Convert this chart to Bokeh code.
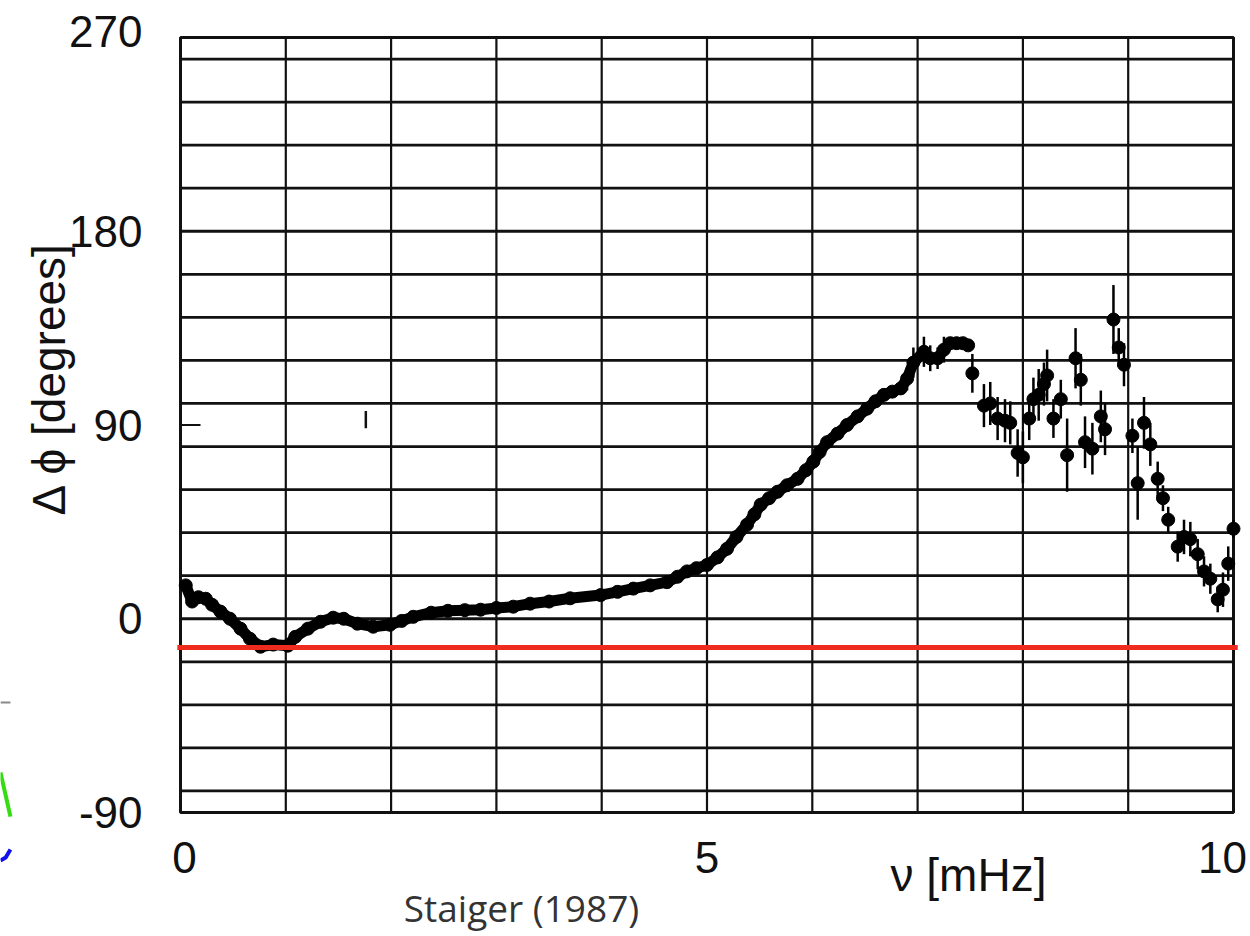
import math
from bokeh.plotting import figure
from bokeh.models import Range1d, Label
from bokeh.embed import file_html
from bokeh.resources import INLINE

# ---------------- data ----------------
curve_x = [0.05, 0.11, 0.17, 0.24, 0.30, 0.38, 0.47, 0.57, 0.66, 0.76, 0.88, 1.02, 1.09,
           1.21, 1.33, 1.45, 1.55, 1.68, 1.83, 1.99, 2.10, 2.21, 2.38, 2.54, 2.70, 2.85,
           3.00, 3.16, 3.32, 3.50, 3.70, 3.99, 4.15, 4.30, 4.46, 4.62, 4.72, 4.81, 4.90,
           5.00, 5.10, 5.19, 5.28, 5.38, 5.45, 5.51, 5.59, 5.67, 5.76, 5.86, 5.94, 6.01,
           6.07, 6.14, 6.24, 6.33, 6.43, 6.52, 6.60, 6.68, 6.76, 6.84, 6.90, 6.96, 7.06,
           7.12, 7.19, 7.25, 7.31, 7.37, 7.43, 7.48]
curve_y = [15.5, 8.0, 10.0, 9.3, 6.5, 3.3, 0.0, -4.6, -9.3, -13.0, -12.0, -12.5, -8.4,
           -4.6, -1.4, 0.5, 0.0, -2.3, -3.7, -2.8, -1.0, 0.9, 2.8, 3.7, 4.0, 4.2,
           5.0, 5.6, 7.0, 8.0, 9.5, 11.0, 12.5, 14.0, 15.5, 17.0, 19.5, 22.0, 23.5,
           25.0, 28.5, 32.5, 38.0, 43.7, 48.5, 53.0, 56.0, 59.0, 62.0, 65.0, 69.0, 73.0,
           77.5, 82.0, 86.0, 90.0, 94.0, 97.6, 101.0, 104.0, 105.5, 107.0, 111.5, 119.0, 124.0,
           121.0, 121.0, 125.0, 128.0, 128.0, 128.0, 127.0]
# small error bars visible on the dense part near its end
curve_err_x = [6.90, 6.96, 7.06, 7.12, 7.19, 7.25]
curve_err_lo = [106.0, 112.0, 117.0, 115.0, 116.0, 119.0]
curve_err_hi = [117.0, 126.0, 131.0, 127.0, 126.0, 131.0]

pts_x = [7.52, 7.63, 7.69, 7.76, 7.83, 7.88, 7.95, 8.00, 8.06, 8.10, 8.15, 8.20, 8.23, 8.29,
         8.36, 8.42, 8.50, 8.55, 8.59, 8.66, 8.74, 8.78, 8.86, 8.91, 8.96, 9.04, 9.09, 9.15,
         9.21, 9.28, 9.33, 9.38, 9.47, 9.53, 9.59, 9.66, 9.72, 9.78, 9.85, 9.90, 9.95, 10.0]
pts_y = [114, 99, 100, 93, 92, 91, 77, 75, 93, 102, 104, 109, 113, 93,
         102, 76, 121, 111, 82, 79, 94, 88, 139, 126, 118, 85, 63, 91,
         81, 65, 56, 46, 33.5, 38, 37, 30, 22, 18.6, 9, 13.5, 25.6, 41.8]
pts_err = [9, 10, 10, 10, 10, 10, 11, 12, 10, 10, 12, 10, 12, 9,
           9, 17, 14, 12, 12, 12, 12, 12, 16, 9, 10, 8, 17, 12,
           10, 8, 6, 6, 7, 8, 8, 7, 7, 7, 6, 8, 8, 4]

stray_x = [1.76]
stray_lo = [88.5]
stray_hi = [96.5]

reference_level = -13.3
reference_x = [-0.03, 10.04]

xgrid_values = list(range(0, 11))
ygrid_values = list(range(-80, 261, 20))
xtick_values = [0, 5, 10]
xtick_labels = ["0", "5", "10"]
ytick_values = [-90, 0, 90, 180, 270]
ytick_labels = ["-90", "0", "90", "180", "270"]
inner_tick_values = [90]

# fragments of a neighbouring figure visible at the left edge
frag_gray_x = [-1.71, -1.615]
frag_gray_y = [-38.9, -38.9]
frag_green_x = [-1.71, -1.66, -1.615]
frag_green_y = [-71.4, -82.1, -91.9]
frag_blue_x = [-1.71, -1.66, -1.615]
frag_blue_y = [-112.3, -110.9, -107.2]

# ---------------- layout ----------------
W, H = 1250, 936
FL, FR, FT, FB = 180, 1233, 37, 812      # pixel box of the plotting area
X0, X1, Y0, Y1 = 0, 10, -90, 270
KX = (FR - FL) / (X1 - X0)
KY = (FB - FT) / (Y1 - Y0)


def px_x(px):
    return X0 + (px - FL) / KX


def px_y(py):
    return Y1 - (py - FT) / KY


p = figure(width=W, height=H,
           x_range=Range1d(px_x(0), px_x(W)), y_range=Range1d(px_y(H), px_y(0)),
           output_backend="svg", toolbar_location=None,
           x_axis_location=None, y_axis_location=None,
           min_border=0)
p.background_fill_color = "white"
p.border_fill_color = "white"
p.outline_line_color = None
for g in p.grid:
    g.visible = False

INK = "#111111"

# grid
p.segment(x0=xgrid_values, y0=[Y0] * len(xgrid_values), x1=xgrid_values, y1=[Y1] * len(xgrid_values),
          line_color=INK, line_width=2.2)
p.segment(x0=[X0] * len(ygrid_values), y0=ygrid_values, x1=[X1] * len(ygrid_values), y1=ygrid_values,
          line_color=INK, line_width=2.8)
# frame
p.quad(left=[X0], right=[X1], bottom=[Y0], top=[Y1], fill_color=None, line_color=INK, line_width=3)

# inner tick at 90
p.segment(x0=[X0] * len(inner_tick_values), y0=inner_tick_values,
          x1=[X0 + 0.19] * len(inner_tick_values), y1=inner_tick_values,
          line_color=INK, line_width=2)

# stray mark
p.segment(x0=stray_x, y0=stray_lo, x1=stray_x, y1=stray_hi, line_color=INK, line_width=2.5)

# dense curve
p.segment(x0=curve_err_x, y0=curve_err_lo, x1=curve_err_x, y1=curve_err_hi,
          line_color="#000000", line_width=2.5)
p.line(curve_x, curve_y, line_color="#000000", line_width=11)
p.scatter(curve_x, curve_y, size=13, fill_color="#000000", line_color="#000000")

# scattered points with error bars
lo = [y - e for y, e in zip(pts_y, pts_err)]
hi = [y + e for y, e in zip(pts_y, pts_err)]
p.segment(x0=pts_x, y0=lo, x1=pts_x, y1=hi, line_color="#000000", line_width=2.5)
p.scatter(pts_x, pts_y, size=13, fill_color="#000000", line_color="#000000")

# red reference line
p.line(reference_x, [reference_level] * len(reference_x), line_color="#EE2B1C", line_width=5)

# left-edge fragments
p.line(frag_gray_x, frag_gray_y, line_color="#8a8a8a", line_width=2)
p.line(frag_green_x, frag_green_y, line_color="#33dd11", line_width=4)
p.line(frag_blue_x, frag_blue_y, line_color="#1111ee", line_width=4)

FONT = "Liberation Sans"

# vertical nudges (px) of the y tick labels as printed in the reference
y_nudge = [0, 0, 0, 0, -6]
for v, lab, n in zip(ytick_values, ytick_labels, y_nudge):
    p.add_layout(Label(x=px_x(142), y=v + (-n) / KY, text=lab, text_align="right",
                       text_baseline="middle", text_font=FONT, text_font_size="44px",
                       text_color=INK))

x_off = [4, 0, -11]
for v, lab, o in zip(xtick_values, xtick_labels, x_off):
    p.add_layout(Label(x=v, y=px_y(857), x_offset=o, text=lab, text_align="center",
                       text_baseline="middle", text_font=FONT, text_font_size="44px",
                       text_color=INK))

p.add_layout(Label(x=px_x(968), y=px_y(874), text="ν [mHz]", text_align="center",
                   text_baseline="middle", text_font=FONT, text_font_size="46px",
                   text_color=INK))
p.add_layout(Label(x=px_x(48), y=px_y(378), text="Δ ϕ [degrees]", angle=math.pi / 2,
                   text_align="center", text_baseline="middle", text_font=FONT,
                   text_font_size="46px", text_color=INK))
p.add_layout(Label(x=px_x(521), y=px_y(907), text="Staiger (1987)", text_align="center",
                   text_baseline="middle", text_font="Open Sans", text_font_size="37px",
                   text_color="#333333"))

open("out.html", "w").write(file_html(p, INLINE))
